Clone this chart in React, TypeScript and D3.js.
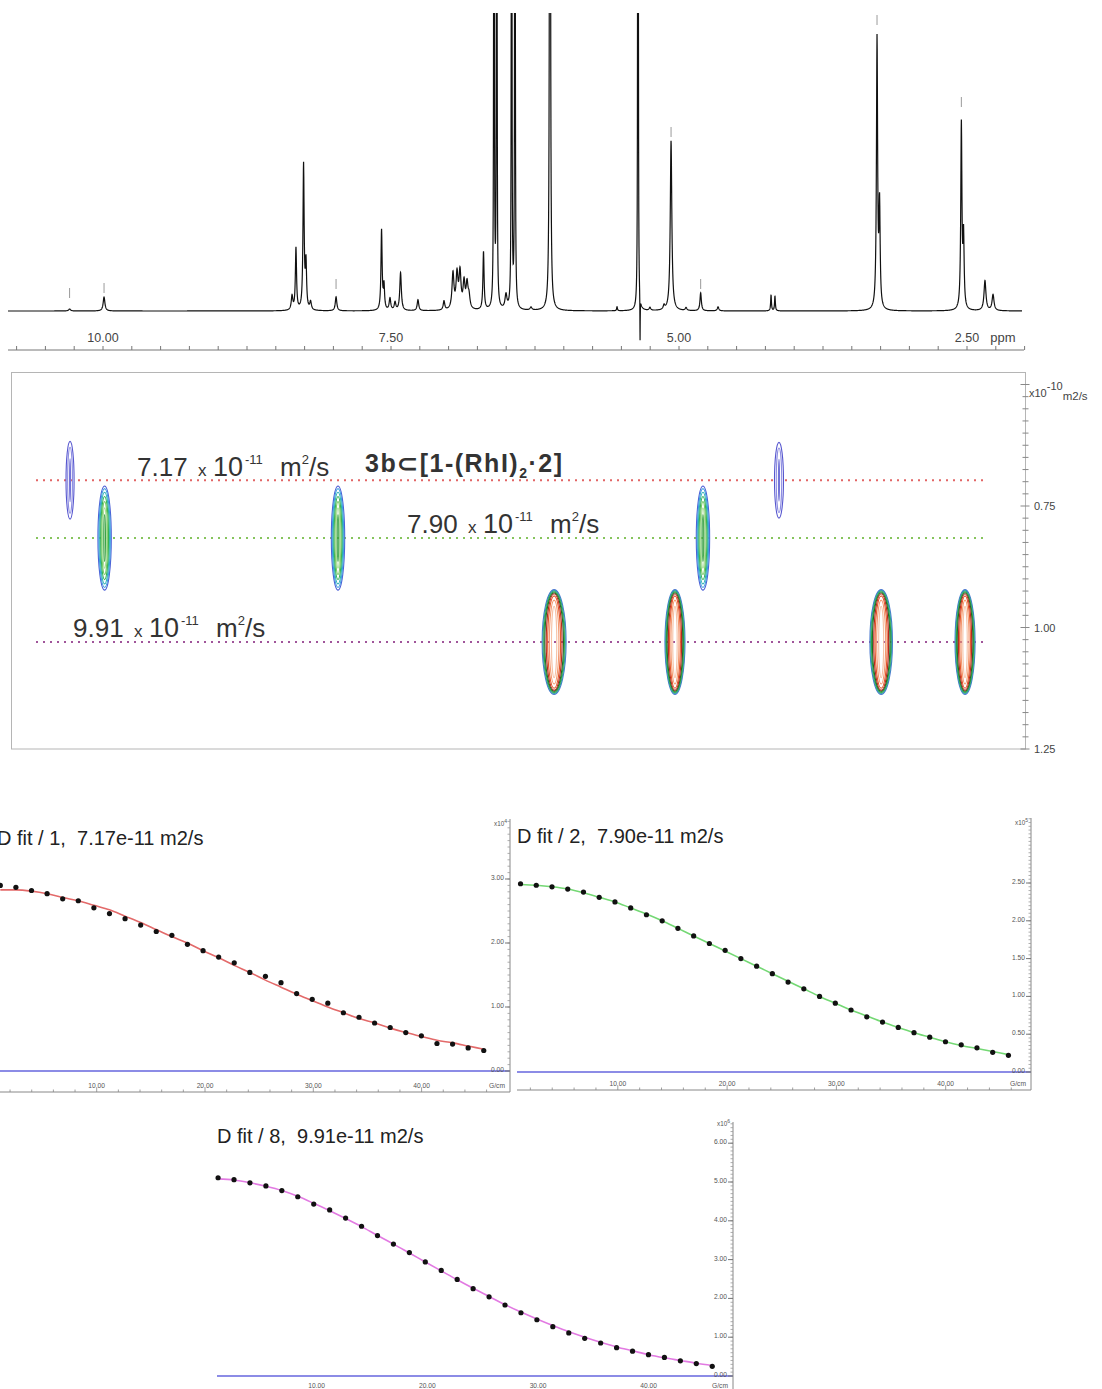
import React from "react";
import * as d3 from "d3";

const FONT = "'Liberation Sans', Arial, Helvetica, sans-serif";

// ---------- 1H spectrum ----------
// Resolved signals: [shift (ppm), height, half-width at half height (ppm)]
const spectrumPeaks: [number, number, number][] = [
  [10.29, 2, 0.01],
  [9.991, 14, 0.009],
  [8.359, 14, 0.008],
  [8.325, 62, 0.006],
  [8.259, 145, 0.006],
  [8.238, 45, 0.006],
  [8.198, 8, 0.008],
  [7.977, 14, 0.008],
  [7.582, 80, 0.006],
  [7.561, 24, 0.006],
  [7.509, 12, 0.008],
  [7.465, 8, 0.008],
  [7.417, 38, 0.008],
  [7.266, 11, 0.008],
  [7.04, 9, 0.008],
  [6.962, 36, 0.01],
  [6.927, 34, 0.01],
  [6.901, 36, 0.01],
  [6.866, 26, 0.01],
  [6.84, 24, 0.01],
  [6.823, 12, 0.01],
  [6.697, 58, 0.006],
  [6.606, 1500, 0.0018],
  [6.582, 1500, 0.0018],
  [6.502, 14, 0.01],
  [6.453, 1500, 0.0018],
  [6.424, 1500, 0.0018],
  [6.285, 3, 0.01],
  [6.12, 1800, 0.0028],
  [5.538, 4, 0.004],
  [5.356, 3000, 0.0013],
  [5.338, -45, 0.0013],
  [5.252, 3, 0.008],
  [5.13, 4, 0.008],
  [5.069, 170, 0.008],
  [4.939, 3, 0.008],
  [4.812, 18, 0.007],
  [4.661, 4, 0.008],
  [4.201, 16, 0.004],
  [4.167, 15, 0.004],
  [3.281, 270, 0.006],
  [3.259, 100, 0.006],
  [2.549, 185, 0.006],
  [2.53, 70, 0.006],
  [2.344, 30, 0.01],
  [2.274, 16, 0.01],
];

// Peak-pick markers: [shift (ppm), marker foot level (intensity units)]
const peakMarks: [number, number][] = [
  [10.29, 13],
  [9.991, 18],
  [7.977, 22],
  [5.069, 174],
  [4.812, 22],
  [3.281, 286],
  [2.549, 204],
];

const ppmLabels = [10, 7.5, 5, 2.5];

// ---------- DOSY map ----------
// Diffusion axis is in units of 1e-10 m2/s
const diffusionTickLabels = [0.75, 1.0, 1.25];
const bandDiffusion = [0.697, 0.816, 1.03];
const bandLabels = ["7.17", "7.90", "9.91"];

// Cross peaks: shift, band index, half-extent along ppm and along D
const dosyPeaks: { ppm: number; band: number; spreadPpm: number; spreadD: number }[] = [
  { ppm: 10.286, band: 0, spreadPpm: 0.035, spreadD: 0.08 },
  { ppm: 9.986, band: 1, spreadPpm: 0.058, spreadD: 0.107 },
  { ppm: 7.96, band: 1, spreadPpm: 0.058, spreadD: 0.107 },
  { ppm: 4.792, band: 1, spreadPpm: 0.058, spreadD: 0.107 },
  { ppm: 4.132, band: 0, spreadPpm: 0.039, spreadD: 0.078 },
  { ppm: 6.084, band: 2, spreadPpm: 0.104, spreadD: 0.108 },
  { ppm: 5.035, band: 2, spreadPpm: 0.087, spreadD: 0.108 },
  { ppm: 3.245, band: 2, spreadPpm: 0.098, spreadD: 0.108 },
  { ppm: 2.517, band: 2, spreadPpm: 0.087, spreadD: 0.108 },
];

// ---------- Diffusion decay fits ----------
const gradients = [
  1.1, 2.54, 3.98, 5.42, 6.86, 8.3, 9.74, 11.18, 12.62, 14.06, 15.5, 16.94, 18.38, 19.82, 21.26, 22.7,
  24.14, 25.58, 27.02, 28.46, 29.9, 31.34, 32.78, 34.22, 35.66, 37.1, 38.54, 39.98, 41.42, 42.86, 44.3, 45.74,
];

const fit1Points = [
  2.9, 2.87, 2.82, 2.77, 2.69, 2.66, 2.55, 2.46, 2.38, 2.28, 2.18, 2.12, 1.98, 1.88, 1.78, 1.69,
  1.54, 1.48, 1.38, 1.21, 1.12, 1.06, 0.91, 0.84, 0.75, 0.68, 0.6, 0.55, 0.43, 0.42, 0.36, 0.32,
];
const fit1Curve = [
  2.83, 2.83, 2.81, 2.77, 2.71, 2.66, 2.59, 2.52, 2.42, 2.32, 2.21, 2.1, 2.0, 1.88, 1.77, 1.65,
  1.54, 1.42, 1.31, 1.2, 1.1, 1.0, 0.91, 0.82, 0.75, 0.67, 0.6, 0.54, 0.48, 0.44, 0.39, 0.34,
];

const fit2Points = [
  2.49, 2.47, 2.45, 2.42, 2.38, 2.31, 2.25, 2.17, 2.08, 2.0, 1.9, 1.8, 1.7, 1.61, 1.5, 1.4,
  1.3, 1.19, 1.1, 1.0, 0.91, 0.82, 0.73, 0.66, 0.59, 0.52, 0.46, 0.4, 0.36, 0.32, 0.26, 0.22,
];
const fit2Curve = [
  2.48, 2.47, 2.45, 2.42, 2.37, 2.31, 2.25, 2.17, 2.09, 2.0, 1.9, 1.8, 1.7, 1.6, 1.5, 1.4,
  1.3, 1.2, 1.1, 1.0, 0.91, 0.82, 0.74, 0.66, 0.59, 0.52, 0.46, 0.4, 0.35, 0.31, 0.27, 0.23,
];

const fit3Points = [
  5.11, 5.06, 4.98, 4.9, 4.78, 4.62, 4.43, 4.28, 4.07, 3.86, 3.62, 3.4, 3.18, 2.94, 2.72, 2.49,
  2.25, 2.04, 1.83, 1.63, 1.45, 1.27, 1.11, 0.97, 0.85, 0.73, 0.64, 0.55, 0.48, 0.39, 0.32, 0.25,
];
const fit3Curve = [
  5.08, 5.05, 4.98, 4.89, 4.78, 4.63, 4.45, 4.26, 4.06, 3.85, 3.62, 3.4, 3.17, 2.94, 2.71, 2.48,
  2.26, 2.05, 1.84, 1.65, 1.47, 1.3, 1.14, 1.0, 0.87, 0.75, 0.65, 0.55, 0.47, 0.4, 0.33, 0.27,
];

const gradientLabels = [10, 20, 30, 40];

// ---------- shared scales ----------
const ppmX = d3.scaleLinear().domain([10, 2.5]).range([103, 967]);

function Spectrum() {
  const y = d3.scaleLinear().domain([0, 297]).range([311, 14]);
  const intensity = (p: number) =>
    spectrumPeaks.reduce((s, [c, h, w]) => {
      const u = (p - c) / w;
      return s + h / (1 + u * u);
    }, 0);
  const samples = d3
    .range(8, 1022.01, 0.2)
    .map((px) => ppmX.invert(px))
    .concat(spectrumPeaks.map((d) => d[0]))
    .sort((a, b) => b - a);
  const path = d3
    .line<number>()
    .x((p) => ppmX(p))
    .y((p) => y(intensity(p)))(samples) as string;

  const ticks = d3.range(0, 36).map((i) => 10.75 - i * 0.25).filter((v) => ppmX(v) <= 1026);
  const axisY = 350;

  return (
    <g>
      <defs>
        <clipPath id="specClip">
          <rect x={0} y={13} width={1102} height={335} />
        </clipPath>
      </defs>
      <path d={path} fill="none" stroke="#111" strokeWidth={1.2} clipPath="url(#specClip)" />
      {peakMarks.map(([p, lo], i) => (
        <line key={i} x1={ppmX(p)} x2={ppmX(p)} y1={y(lo)} y2={y(lo + 10)} stroke="#9a9a9a" strokeWidth={1} />
      ))}
      <line x1={8} x2={1024} y1={axisY} y2={axisY} stroke="#777" strokeWidth={1} />
      {ticks.map((v, i) => (
        <line key={i} x1={ppmX(v)} x2={ppmX(v)} y1={axisY} y2={axisY - 4} stroke="#777" strokeWidth={1} />
      ))}
      {ppmLabels.map((v) => (
        <text key={v} x={ppmX(v)} y={342} fontSize={12.5} textAnchor="middle" fill="#444">
          {v.toFixed(2)}
        </text>
      ))}
      <text x={1003} y={342} fontSize={13} textAnchor="middle" fill="#444">
        ppm
      </text>
    </g>
  );
}

type Level = { sx: number; sy: number; c: string };
const contourStyles: Level[][] = [
  [
    { sx: 1, sy: 1, c: "#5656cf" },
    { sx: 0.6, sy: 0.85, c: "#8e8ee2" },
    { sx: 0.12, sy: 0.55, c: "#7272d8" },
  ],
  [
    { sx: 1, sy: 1, c: "#4b5fd6" },
    { sx: 0.86, sy: 0.95, c: "#3f9fe0" },
    { sx: 0.72, sy: 0.88, c: "#2fb3b3" },
    { sx: 0.58, sy: 0.8, c: "#33b04f" },
    { sx: 0.44, sy: 0.7, c: "#7ccc6a" },
    { sx: 0.3, sy: 0.58, c: "#a8dc98" },
    { sx: 0.12, sy: 0.45, c: "#2f9c3a" },
  ],
  [
    { sx: 1, sy: 1, c: "#4a78d0" },
    { sx: 0.93, sy: 0.98, c: "#2fa0a8" },
    { sx: 0.86, sy: 0.96, c: "#35a845" },
    { sx: 0.78, sy: 0.94, c: "#1d6b2c" },
    { sx: 0.66, sy: 0.92, c: "#b82a1e" },
    { sx: 0.54, sy: 0.88, c: "#e5562a" },
    { sx: 0.4, sy: 0.8, c: "#f39a70" },
    { sx: 0.22, sy: 0.68, c: "#f6c2a6" },
  ],
];
const bandColors = ["#e26565", "#86c45c", "#a0559a"];

function DiffLabel({ x, y, value }: { x: number; y: number; value: string }) {
  return (
    <text x={x} y={y} fontSize={26} fill="#333">
      <tspan>{value}</tspan>
      <tspan x={x + 61} fontSize={17}>
        x
      </tspan>
      <tspan x={x + 76} fontSize={27}>
        10
      </tspan>
      <tspan x={x + 108} fontSize={13} dy={-12}>
        -11
      </tspan>
      <tspan x={x + 143} dy={12}>
        m
      </tspan>
      <tspan fontSize={13} dy={-12}>
        2
      </tspan>
      <tspan dy={12}>/s</tspan>
    </text>
  );
}

function Dosy() {
  const dY = d3.scaleLinear().domain([0.75, 1.25]).range([506, 749]);
  const top = 372.5;
  const right = 1025.5;
  const ticks = d3.range(0, 32).map((i) => +(0.475 + 0.025 * i).toFixed(3)).filter((v) => dY(v) >= top);
  return (
    <g>
      <rect x={11.5} y={top} width={right - 11.5} height={749 - top} fill="none" stroke="#b5b5b5" strokeWidth={1} />
      {ticks.map((v) => {
        const major = Math.abs((v * 4) % 1) < 1e-6 || Math.abs((v * 4) % 1 - 1) < 1e-6;
        return (
          <line
            key={v}
            x1={major ? right - 5 : right - 3}
            x2={major ? right + 4 : right + 3}
            y1={dY(v)}
            y2={dY(v)}
            stroke="#888"
            strokeWidth={1}
          />
        );
      })}
      {diffusionTickLabels.map((v) => (
        <text key={v} x={1034} y={dY(v) + 4} fontSize={11} fill="#444">
          {v.toFixed(2)}
        </text>
      ))}
      <text x={1029} y={397} fontSize={11} fill="#444">
        x10
        <tspan dy={-7}>-10</tspan>
        <tspan dy={10} fontSize={11.5}>
          m2/s
        </tspan>
      </text>

      {bandDiffusion.map((d, i) => (
        <line
          key={i}
          x1={36}
          x2={985}
          y1={dY(d)}
          y2={dY(d)}
          stroke={bandColors[i]}
          strokeWidth={2}
          strokeDasharray="2 5"
        />
      ))}

      {dosyPeaks.map((pk, i) => {
        const cx = ppmX(pk.ppm);
        const cy = dY(bandDiffusion[pk.band]);
        const rx = Math.abs(ppmX(pk.ppm + pk.spreadPpm) - cx);
        const ry = Math.abs(dY(bandDiffusion[pk.band] + pk.spreadD) - cy);
        return (
          <g key={i}>
            {contourStyles[pk.band].map((lv, j) => (
              <ellipse
                key={j}
                cx={cx}
                cy={cy}
                rx={rx * lv.sx}
                ry={ry * lv.sy}
                fill="none"
                stroke={lv.c}
                strokeWidth={1.1}
              />
            ))}
          </g>
        );
      })}

      <DiffLabel x={137} y={476} value={bandLabels[0]} />
      <DiffLabel x={407} y={533} value={bandLabels[1]} />
      <DiffLabel x={73} y={637} value={bandLabels[2]} />

      <text x={365} y={472} fontSize={25} fontWeight="bold" fill="#333" letterSpacing={1.5}>
        3b⊂[1-(RhI)
        <tspan fontSize={14} dy={6}>
          2
        </tspan>
        <tspan dy={-6}>·2]</tspan>
      </text>
    </g>
  );
}

type PanelCfg = {
  title: string;
  titleX: number;
  titleY: number;
  points: number[];
  curve: number[];
  gx0: number;
  gk: number;
  y0: number;
  yk: number;
  axisX: number;
  axisTop: number;
  baseY: number;
  labelY: number;
  left: number;
  yLabels: number[];
  minor: number;
  exp: string;
  expY: number;
  curveColor: string;
};

function FitPanel({ cfg }: { cfg: PanelCfg }) {
  const x = d3.scaleLinear().domain([0, 10]).range([cfg.gx0, cfg.gx0 + cfg.gk * 10]);
  const y = d3.scaleLinear().domain([0, 1]).range([cfg.y0, cfg.y0 - cfg.yk]);
  const yMax = y.invert(cfg.axisTop);
  const minorTicks = d3.range(0, Math.floor(yMax / cfg.minor) + 1).map((i) => i * cfg.minor);
  const gTicks = d3.range(0, 50, 2).filter((g) => x(g) >= cfg.left && x(g) <= cfg.axisX - 2);
  const curvePath = d3
    .line<number>()
    .x((_, i) => x(gradients[i]))
    .y((v) => y(v))
    .curve(d3.curveMonotoneX)(cfg.curve) as string;
  return (
    <g>
      <text x={cfg.titleX} y={cfg.titleY} fontSize={20} fill="#222" style={{ whiteSpace: "pre" }}>
        {cfg.title}
      </text>
      {/* zero line */}
      <line x1={cfg.left} x2={cfg.axisX} y1={y(0)} y2={y(0)} stroke="#8c8ce6" strokeWidth={2} />
      {/* right axis */}
      <line x1={cfg.axisX} x2={cfg.axisX} y1={cfg.axisTop} y2={cfg.baseY} stroke="#888" strokeWidth={1} />
      {minorTicks.map((v, i) => (
        <line key={i} x1={cfg.axisX - 2.5} x2={cfg.axisX} y1={y(v)} y2={y(v)} stroke="#999" strokeWidth={0.8} />
      ))}
      {cfg.yLabels.map((v) => (
        <g key={v}>
          <line x1={cfg.axisX - 5} x2={cfg.axisX} y1={y(v)} y2={y(v)} stroke="#777" strokeWidth={1} />
          <text x={cfg.axisX - 6} y={y(v) + 1} fontSize={6.7} textAnchor="end" fill="#555">
            {v.toFixed(2)}
          </text>
        </g>
      ))}
      <text x={cfg.axisX - 3} y={cfg.expY} fontSize={6.3} textAnchor="end" fill="#555">
        x10
        <tspan fontSize={5} dy={-3}>
          {cfg.exp}
        </tspan>
      </text>
      {/* bottom axis */}
      <line x1={cfg.left} x2={cfg.axisX} y1={cfg.baseY} y2={cfg.baseY} stroke="#888" strokeWidth={1} />
      {gTicks.map((g) => (
        <line key={g} x1={x(g)} x2={x(g)} y1={cfg.baseY} y2={cfg.baseY - (g % 10 === 0 ? 4 : 2.5)} stroke="#888" strokeWidth={0.8} />
      ))}
      {gradientLabels.map((g) => (
        <text key={g} x={x(g)} y={cfg.labelY} fontSize={6.7} textAnchor="middle" fill="#555">
          {g.toFixed(2)}
        </text>
      ))}
      <text x={cfg.axisX - 13} y={cfg.labelY} fontSize={6.7} textAnchor="middle" fill="#555">
        G/cm
      </text>
      {/* fit and data */}
      <path d={curvePath} fill="none" stroke={cfg.curveColor} strokeWidth={1.6} />
      {cfg.points.map((v, i) => (
        <circle key={i} cx={x(gradients[i])} cy={y(v)} r={2.6} fill="#111" />
      ))}
    </g>
  );
}

const panels: PanelCfg[] = [
  {
    title: "D fit / 1,  7.17e-11 m2/s",
    titleX: -3,
    titleY: 845,
    points: fit1Points,
    curve: fit1Curve,
    gx0: -11.6,
    gk: 10.83,
    y0: 1071,
    yk: 64,
    axisX: 510,
    axisTop: 819,
    baseY: 1092,
    labelY: 1088,
    left: 0,
    yLabels: [0, 1, 2, 3],
    minor: 0.1,
    exp: "4",
    expY: 826,
    curveColor: "#e36a6a",
  },
  {
    title: "D fit / 2,  7.90e-11 m2/s",
    titleX: 517,
    titleY: 843,
    points: fit2Points,
    curve: fit2Curve,
    gx0: 508.5,
    gk: 10.93,
    y0: 1072,
    yk: 75.6,
    axisX: 1031,
    axisTop: 818,
    baseY: 1090,
    labelY: 1086,
    left: 517,
    yLabels: [0, 0.5, 1, 1.5, 2, 2.5],
    minor: 0.05,
    exp: "5",
    expY: 825,
    curveColor: "#74d874",
  },
  {
    title: "D fit / 8,  9.91e-11 m2/s",
    titleX: 217,
    titleY: 1143,
    points: fit3Points,
    curve: fit3Curve,
    gx0: 205.9,
    gk: 11.07,
    y0: 1376,
    yk: 38.8,
    axisX: 733,
    axisTop: 1122,
    baseY: 1394,
    labelY: 1388,
    left: 217,
    yLabels: [0, 1, 2, 3, 4, 5, 6],
    minor: 0.1,
    exp: "6",
    expY: 1126,
    curveColor: "#e27ae2",
  },
];

export default function App() {
  return (
    <svg
      width={1102}
      height={1389}
      style={{ position: "absolute", left: 0, top: 0, display: "block", background: "#fff" }}
      fontFamily={FONT}
    >
      <rect width={1102} height={1389} fill="#fff" />
      <Spectrum />
      <Dosy />
      {panels.map((p, i) => (
        <FitPanel key={i} cfg={p} />
      ))}
    </svg>
  );
}
